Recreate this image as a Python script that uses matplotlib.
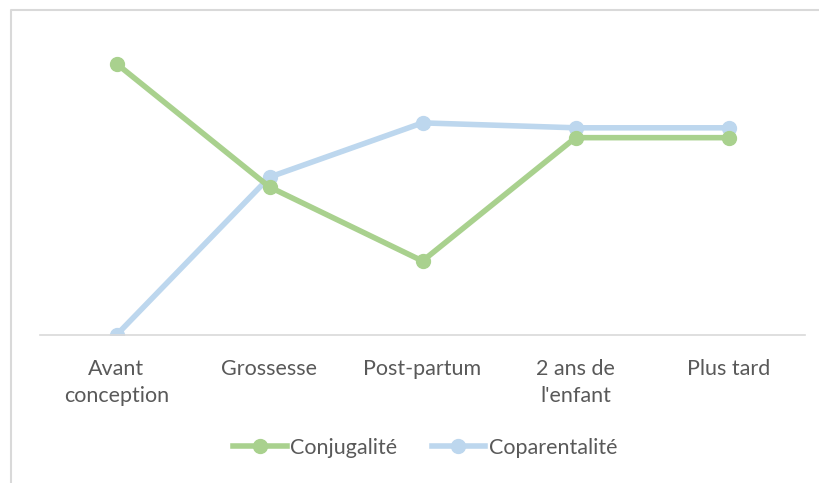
import matplotlib.pyplot as plt
from matplotlib.lines import Line2D

# Données
categories = ['Avant\nconception', 'Grossesse', 'Post-partum', '2 ans de\nl\'enfant', 'Plus tard']
conjugalite = [5.5, 3.0, 1.5, 4.0, 4.0]
coparentalite = [0.0, 3.2, 4.3, 4.2, 4.2]

green = '#A9D18E'
blue = '#BDD7EE'
text_color = '#595959'

plt.rcParams['font.family'] = ['Lato', 'DejaVu Sans']

fig = plt.figure(figsize=(8.2, 4.83), dpi=100)
ax = fig.add_axes([40 / 820, 148 / 483, 765 / 820, 296 / 483])

x = range(len(categories))
ax.plot(x, conjugalite, '-o', color=green, linewidth=4, markersize=10,
        solid_capstyle='round', label='Conjugalité', zorder=3)
ax.plot(x, coparentalite, '-o', color=blue, linewidth=4, markersize=10,
        solid_capstyle='round', label='Coparentalité', zorder=2)

ax.set_xlim(-0.5, len(categories) - 0.5)
ax.set_ylim(0, 6)
ax.set_xticks(list(x))
ax.set_xticklabels(categories, fontsize=15.5, color=text_color, linespacing=1.45)
ax.tick_params(axis='x', length=0, pad=17)
ax.set_yticks([])
for side in ['top', 'right', 'left']:
    ax.spines[side].set_visible(False)
ax.spines['bottom'].set_color('#D9D9D9')
ax.spines['bottom'].set_linewidth(1.2)
ax.patch.set_alpha(0)

handles = [Line2D([], [], color=green, linewidth=4, marker='o', markersize=10),
           Line2D([], [], color=blue, linewidth=4, marker='o', markersize=10)]
fig.legend(handles, ['Conjugalité', 'Coparentalité'], loc='center',
           bbox_to_anchor=(425 / 820, 1 - 448 / 483), ncol=2, frameon=False,
           fontsize=15.5, labelcolor=text_color, handlelength=2.5,
           handletextpad=0.15, columnspacing=1.6)

# cadre du graphique (bords gauche et haut visibles)
fig.add_artist(Line2D([11 / 820, 11 / 820, 1], [0, 1 - 10 / 483, 1 - 10 / 483],
                      color='#D9D9D9', linewidth=1.5, transform=fig.transFigure))

fig.savefig('out.png', dpi=100)
